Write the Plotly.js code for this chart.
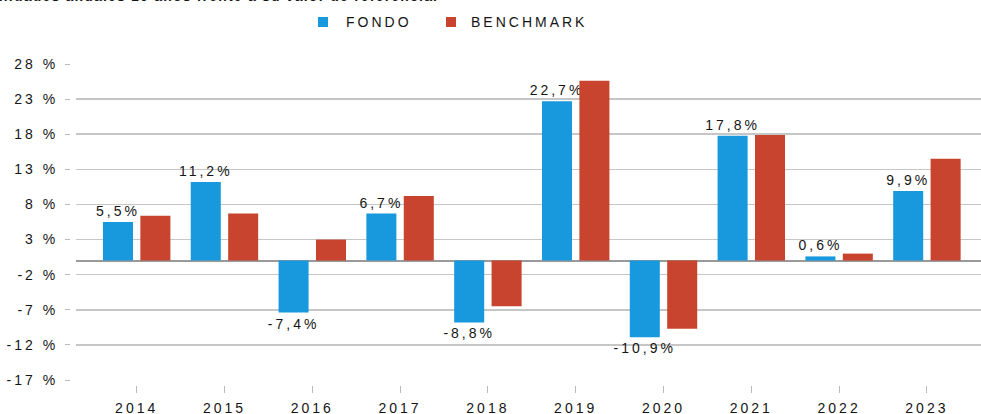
<!DOCTYPE html>
<html>
<head>
<meta charset="utf-8">
<script src="https://cdn.plot.ly/plotly-3.0.1.min.js"></script>
<style>
html,body{margin:0;padding:0;background:#fff;}
#chart{width:981px;height:414px;}
svg text{letter-spacing:3px;}
</style>
</head>
<body>
<div id="chart"></div>
<script>
// ---- data ----
const years = ["2014","2015","2016","2017","2018","2019","2020","2021","2022","2023"];
const fondo = [5.5, 11.2, -7.4, 6.7, -8.8, 22.7, -10.9, 17.8, 0.6, 9.9];
const benchmark = [6.4, 6.7, 3.0, 9.2, -6.5, 25.6, -9.7, 17.9, 1.0, 14.5];
const yTickVals = [-17, -12, -7, -2, 3, 8, 13, 18, 23, 28];
const gridVals = [-12, -7, -2, 3, 8, 13, 18, 23, 28];
const seriesNames = ["FONDO", "BENCHMARK"];
const seriesColors = ["#1899DE", "#C8442E"];
const titleText = "Rentabilidades anuales 10 años frente a su valor de referencia.";

const fmt = v => v.toFixed(1).replace(".", ",") + "%";
const yTickText = yTickVals.map(v => v + " %");

const FONT = "Liberation Sans, Arial, sans-serif";
const TXT = "#151515";
const yRange = [-17.712, 28];

// pixel helpers for paper coordinates (margins l=r=0, t=64, b=29)
const px = x => x / 981;
const py = y => (385 - y) / 321;

const traces = [
  {
    type: "bar", name: seriesNames[0], x: years, y: fondo,
    marker: {color: seriesColors[0], line: {width: 0}},
    width: 0.342, offset: -0.384,
    text: fondo.map(fmt), textposition: "outside", constraintext: "none",
    cliponaxis: false,
    textfont: {family: FONT, size: 14, color: TXT},
    hoverinfo: "skip"
  },
  {
    type: "bar", name: seriesNames[1], x: years, y: benchmark,
    marker: {color: seriesColors[1], line: {width: 0}},
    width: 0.342, offset: 0.042,
    hoverinfo: "skip"
  },
  {
    // invisible helper trace to drive the secondary (label) y axis
    type: "scatter", x: years, y: benchmark, yaxis: "y2",
    mode: "none", showlegend: false, hoverinfo: "skip"
  }
];

const legendItems = [
  {sq: 318, tx: 344},
  {sq: 446, tx: 469}
];

const shapes = legendItems.map((it, i) => ({
  type: "rect", xref: "paper", yref: "paper",
  x0: px(it.sq), x1: px(it.sq + 10), y0: py(27), y1: py(17),
  fillcolor: seriesColors[i], line: {width: 0}
}));

const legendAnns = legendItems.map((it, i) => ({
  text: seriesNames[i], xref: "paper", yref: "paper",
  x: px(it.tx), xanchor: "left", y: py(21.5), yanchor: "middle",
  showarrow: false, font: {family: FONT, size: 14, color: TXT}
}));

const layout = {
  width: 981, height: 414,
  margin: {l: 0, r: 0, t: 64, b: 29},
  paper_bgcolor: "#fff", plot_bgcolor: "#fff",
  font: {family: FONT, size: 14, color: TXT},
  barmode: "group",
  showlegend: false,
  xaxis: {
    type: "category", domain: [76/981, 1], range: [-0.691, 9.616],
    showgrid: false, zeroline: false, showline: false,
    ticks: "outside", ticklen: 7, tickwidth: 1, tickcolor: "#bbb",
    ticklabelstandoff: 3,
    tickfont: {family: FONT, size: 14, color: TXT},
    fixedrange: true
  },
  yaxis: {
    range: yRange, tickmode: "array", tickvals: gridVals,
    showticklabels: false, ticks: "",
    showgrid: true, gridcolor: "#c6c6c6", gridwidth: 1.5,
    zeroline: true, zerolinecolor: "#9a9a9a", zerolinewidth: 2,
    showline: false, fixedrange: true
  },
  yaxis2: {
    range: yRange, overlaying: "y", anchor: "free", position: 70/981, side: "left",
    tickmode: "array", tickvals: yTickVals, ticktext: yTickText,
    showgrid: false, zeroline: false, showline: false,
    ticks: "outside", ticklen: 5, tickwidth: 1, tickcolor: "#bbb",
    ticklabelstandoff: 4,
    tickfont: {family: FONT, size: 14, color: TXT},
    fixedrange: true
  },
  shapes: shapes,
  annotations: [
    {
      text: '<b><span style="letter-spacing:1.2px">' + titleText + '</span></b>',
      xref: "paper", yref: "paper",
      x: px(440), xanchor: "right", y: py(0), yanchor: "middle", yshift: 4,
      showarrow: false, font: {family: FONT, size: 14, color: TXT}
    }
  ].concat(legendAnns)
};

Plotly.newPlot("chart", traces, layout, {staticPlot: true, displayModeBar: false});
</script>
</body>
</html>
